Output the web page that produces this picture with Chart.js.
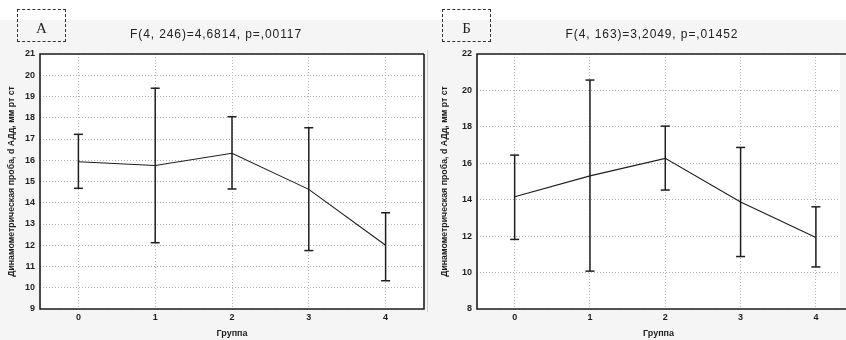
<!DOCTYPE html>
<html><head><meta charset="utf-8">
<script src="https://cdn.jsdelivr.net/npm/chart.js@4/dist/chart.umd.min.js"></script>
<style>
html,body{margin:0;padding:0;width:846px;height:340px;overflow:hidden;background:#fff;}
#bg{position:absolute;left:0;top:20px;width:846px;height:320px;background:#f5f5f5;}
canvas{position:absolute;top:0;}
#c1{left:0px} #c2{left:430px}
.box{position:absolute;top:9px;width:47px;height:31px;border:1.5px dashed #333;font-family:"Liberation Serif","DejaVu Serif",serif;font-size:15px;text-align:center;line-height:36px;color:#222}
.ttl{position:absolute;top:27px;font-family:"Liberation Sans",Arial,sans-serif;font-size:12px;letter-spacing:0.9px;color:#222;white-space:nowrap;transform:translateX(-50%)}
#sep{position:absolute;left:427px;top:50px;width:1px;height:262px;background:#d0d0d0}
</style></head>
<body>
<div id="bg"></div>
<div id="sep"></div>
<canvas id="c1" width="430" height="340"></canvas>
<canvas id="c2" width="416" height="340"></canvas>
<div class="box" style="left:17px">А</div>
<div class="box" style="left:442px">Б</div>
<div class="ttl" id="t1" style="left:216px"></div>
<div class="ttl" id="t2" style="left:652px"></div>
<script>
const groups = ['0', '1', '2', '3', '4'];
const meanA  = [15.93, 15.75, 16.33, 14.63, 12.00];
const upperA = [17.22, 19.39, 18.05, 17.53, 13.53];
const lowerA = [14.68, 12.12, 14.65, 11.75, 10.33];
const meanB  = [14.16, 15.31, 16.27, 13.88, 11.93];
const upperB = [16.45, 20.57, 18.04, 16.87, 13.61];
const lowerB = [11.82, 10.08, 14.53, 10.88, 10.31];
const yRangeA = [9, 21];
const yStepA = 1;
const yRangeB = [8, 22];
const yStepB = 2;
const titleA = 'F(4, 246)=4,6814, p=,00117';
const titleB = 'F(4, 163)=3,2049, p=,01452';
const yLabel = 'Динамометрическая проба, d АДд, мм рт ст';
const xLabel = 'Группа';

document.getElementById('t1').textContent = titleA;
document.getElementById('t2').textContent = titleB;

const FONT = '"Liberation Sans", Arial, sans-serif';
const INK = '#1e1e1e';

const framePlugin = {
  id: 'frame',
  beforeDraw(chart) {
    const a = chart.chartArea, c = chart.ctx;
    c.save(); c.fillStyle = '#ffffff';
    c.fillRect(a.left, a.top, a.right - a.left, a.bottom - a.top);
    c.restore();
  },
  afterDraw(chart, args, opts) {
    const a = chart.chartArea, c = chart.ctx;
    c.save(); c.strokeStyle = INK; c.lineWidth = 1.6;
    c.beginPath();
    c.moveTo(opts.right ? a.right : chart.width, a.top);
    c.lineTo(a.left, a.top);
    c.lineTo(a.left, a.bottom);
    c.lineTo(opts.right ? a.right : chart.width, a.bottom);
    if (opts.right) c.lineTo(a.right, a.top);
    c.stroke(); c.restore();
  }
};

function build(canvasId, mean, upper, lower, yRange, yStep, xMax, yWidth, padRight, yTitlePad, showRight) {
  const datasets = [];
  groups.forEach((g, i) => {
    datasets.push({
      data: [{x: i, y: lower[i]}, {x: i, y: upper[i]}],
      borderColor: INK, borderWidth: 1.5, showLine: true,
      pointStyle: 'line', pointRadius: 4.5, pointBorderColor: INK, pointBorderWidth: 1.5,
      pointHoverRadius: 4.5
    });
  });
  datasets.push({
    data: groups.map((g, i) => ({x: i, y: mean[i]})),
    borderColor: INK, borderWidth: 1.1, showLine: true, pointRadius: 0, tension: 0
  });
  return new Chart(document.getElementById(canvasId), {
    type: 'scatter',
    data: { datasets },
    options: {
      responsive: false, animation: false, devicePixelRatio: 1,
      layout: { padding: { top: 54, right: padRight, left: 0, bottom: 0 } },
      plugins: { legend: { display: false }, tooltip: { enabled: false }, frame: { right: showRight } },
      scales: {
        x: {
          type: 'linear', min: -0.5, max: xMax,
          afterBuildTicks(s) { s.ticks = groups.map((g, i) => ({ value: i })); },
          afterFit(s) { s.height = 31; },
          ticks: { callback: (v) => groups[v] ?? '', font: { family: FONT, size: 9, weight: 'bold' }, color: INK, padding: 3, maxRotation: 0, autoSkip: false },
          grid: { color: '#b4b4b4', lineWidth: 1, drawTicks: false },
          border: { display: false, dash: [1, 2] },
          title: { display: true, text: xLabel, font: { family: FONT, size: 9, weight: 'bold' }, color: INK, padding: { top: 0, bottom: 1 } }
        },
        y: {
          min: yRange[0], max: yRange[1],
          afterFit(s) { s.width = yWidth; },
          ticks: { stepSize: yStep, font: { family: FONT, size: 9, weight: 'bold' }, color: INK, padding: 5 },
          grid: { color: '#b4b4b4', lineWidth: 1, drawTicks: false },
          border: { display: false, dash: [1, 2] },
          title: { display: true, text: yLabel, font: { family: FONT, size: 8.8, weight: 'bold' }, color: INK, padding: { top: yTitlePad, bottom: 0 } }
        }
      }
    },
    plugins: [framePlugin]
  });
}

build('c1', meanA, upperA, lowerA, yRangeA, yStepA, 4.5, 40, 5, 6.5, true);
build('c2', meanB, upperB, lowerB, yRangeB, yStepB, 4.32, 47, 0, 9.5, false);
</script>
</body></html>
